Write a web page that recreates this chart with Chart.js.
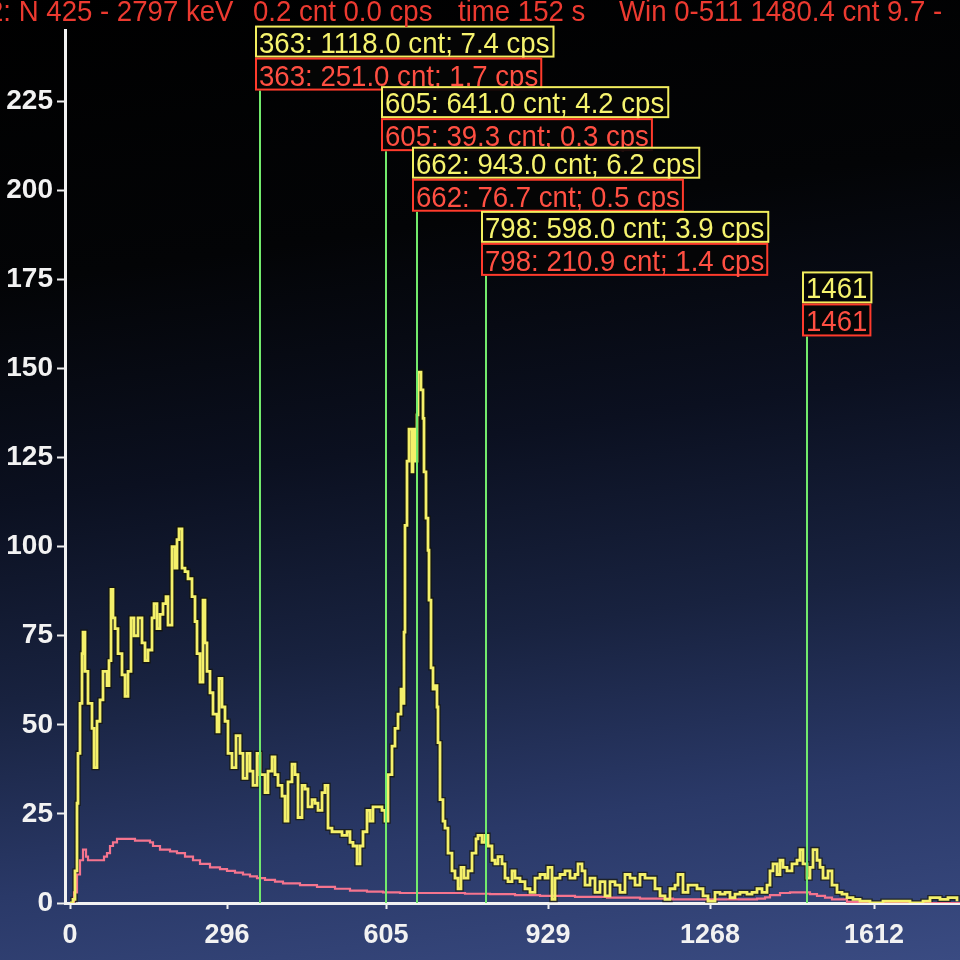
<!DOCTYPE html>
<html>
<head>
<meta charset="utf-8">
<script src="https://cdn.jsdelivr.net/npm/chart.js@4.4.1/dist/chart.umd.min.js"></script>
<style>
    html, body {
        margin: 0;
        padding: 0;
        width: 960px;
        height: 960px;
        overflow: hidden;
        background: linear-gradient(172deg, #000000 0%, #030406 26%, #0b1020 46%, #18223f 64%, #2a3968 82%, #3a4b82 100%);
    }
    #spectrum { display: block; }
</style>
</head>
<body>
<canvas id="spectrum" width="960" height="960"></canvas>
<script>
// spectrum channels (screen channel index) and counts
const yellowCh = [0, 3, 5, 7, 8, 10, 12, 13, 15, 18, 22, 24, 27, 30, 33, 37, 39, 41, 43, 45, 48, 52, 55, 58, 61, 64, 68, 72, 75, 78,
    82, 84, 87, 90, 93, 96, 98, 102, 105, 107, 109, 112, 115, 118, 122, 125, 127, 130, 133, 135, 137, 140, 143, 147, 149, 152, 155, 158, 162, 166,
    170, 173, 177, 180, 183, 187, 190, 195, 198, 202, 205, 208, 212, 215, 218, 222, 225, 228, 232, 235, 238, 242, 245, 248, 252, 255, 258, 262, 267, 272,
    277, 280, 283, 287, 290, 293, 297, 300, 303, 308, 312, 315, 318, 322, 325, 328, 331, 333, 334, 335, 337, 339, 342, 343, 345, 347, 348, 351, 353, 354,
    356, 358, 359, 361, 363, 365, 367, 368, 370, 373, 375, 378, 382, 385, 388, 391, 394, 398, 402, 406, 408, 412, 415, 418, 422, 425, 428, 432, 435, 438,
    442, 445, 450, 455, 460, 465, 470, 475, 478, 482, 485, 490, 495, 500, 505, 508, 512, 515, 520, 525, 530, 535, 540, 545, 550, 555, 560, 565, 570, 575,
    580, 585, 590, 595, 600, 605, 608, 613, 618, 623, 627, 633, 638, 645, 650, 655, 660, 665, 670, 677, 682, 687, 692, 697, 700, 703, 707, 710, 713, 717,
    722, 727, 730, 733, 737, 740, 743, 747, 750, 753, 758, 762, 767, 772, 777, 783, 790, 800, 813, 827, 840, 853, 860, 870, 878, 887];
const yellowCnt = [0, 1, 9, 28, 42, 56, 70, 76, 65, 56, 49, 38, 51, 57, 65, 61, 68, 88, 80, 77, 70, 64, 58, 65, 80, 75, 80, 73, 68, 71,
    80, 84, 77, 81, 84, 86, 78, 100, 94, 102, 105, 94, 93, 91, 86, 79, 70, 62, 85, 73, 65, 59, 53, 48, 63, 55, 51, 42, 38, 47,
    42, 35, 42, 37, 33, 42, 36, 31, 37, 41, 36, 33, 30, 23, 34, 39, 36, 24, 33, 32, 27, 29, 28, 26, 31, 33, 21, 20, 20, 19,
    20, 17, 16, 11, 16, 20, 26, 23, 27, 27, 26, 23, 36, 44, 49, 53, 60, 56, 76, 106, 124, 133, 121, 133, 124, 137, 149, 144, 136, 121,
    108, 99, 85, 66, 60, 61, 55, 45, 29, 23, 21, 14, 9, 7, 4, 10, 7, 9, 14, 18, 19, 17, 19, 16, 12, 11, 13, 11, 7, 6,
    9, 7, 6, 4, 3, 7, 8, 7, 10, 1, 7, 8, 9, 7, 8, 11, 9, 5, 7, 3, 6, 2, 6, 5, 3, 8, 7, 5, 8, 7,
    7, 4, 2, 1, 4, 5, 8, 3, 5, 5, 4, 2, 0.5, 3, 2.5, 3, 1.5, 2.5, 3, 2.5, 3, 4, 3, 5, 9, 11, 8, 12, 10, 9,
    11, 12, 15, 11, 7, 10, 15, 12, 10, 7, 9, 5, 3, 2.5, 1.5, 1, 0.5, 0, 0.5, 0.5, 0, 0.5, 1.5, 1, 1.5, 0.5];

const redCh = [0, 4, 7, 10, 13, 16, 18, 23, 30, 34, 37, 40, 43, 47, 55, 65, 75, 80, 83, 90, 100, 107, 115, 123, 130, 140, 150, 157, 165, 173,
    180, 187, 195, 205, 213, 230, 247, 265, 280, 297, 313, 330, 350, 370, 395, 420, 445, 470, 505, 537, 570, 603, 630, 653, 687, 695, 700, 710, 720, 733,
    740, 747, 755, 762, 777, 790, 890];
const redCnt = [0, 3, 8, 12, 15, 13, 12, 12, 12, 13, 14, 16, 17, 18, 18, 17.5, 17.5, 17, 16, 15, 14.5, 14, 13, 12, 11, 10, 9.5, 9, 8.5, 8,
    7.5, 7, 6.5, 6, 5.5, 5, 4.5, 4, 3.5, 3.2, 3, 2.8, 2.8, 2.8, 2.6, 2.5, 2.2, 2, 1.7, 1.5, 1.2, 1, 1, 1, 1.2, 1.6, 2.2, 2.8, 3, 3,
    2.5, 2, 1.5, 1, 0.3, 0, 0];

// energy markers
const markerCh = [190, 316, 347, 416, 737];
const markerTop = [228, 211, 194, 176, 159];
const markerYellow = ['363: 1118.0 cnt; 7.4 cps', '605: 641.0 cnt; 4.2 cps', '662: 943.0 cnt; 6.2 cps', '798: 598.0 cnt; 3.9 cps', '1461'];
const markerRed = ['363: 251.0 cnt; 1.7 cps', '605: 39.3 cnt; 0.3 cps', '662: 76.7 cnt; 0.5 cps', '798: 210.9 cnt; 1.4 cps', '1461'];

// axes
const xTickCh = [0, 157, 316, 478, 640, 804];
const xTickLabels = ['0', '296', '605', '929', '1268', '1612'];
const yTicks = [0, 25, 50, 75, 100, 125, 150, 175, 200, 225];

const headerParts = [
    { text: '2: N 425 - 2797 keV', x: -12 },
    { text: '0.2 cnt 0.0 cps', x: 253 },
    { text: 'time 152 s', x: 458 },
    { text: 'Win 0-511 1480.4 cnt 9.7 -', x: 619 }
];

const FONT = '"Liberation Sans", Arial, sans-serif';
const NARROW = 0.92; // screen font is a bit condensed
const toPoints = (xs, ys) => xs.map((c, i) => ({ x: c, y: ys[i] }));

// draw text squeezed horizontally
const narrowText = (ctx, text, x, y) => {
    ctx.save();
    ctx.translate(x, y);
    ctx.scale(NARROW, 1);
    ctx.fillText(text, 0, 0);
    ctx.restore();
};

const markerPlugin = {
    id: 'markers',
    afterDatasetsDraw(chart) {
        const { ctx, scales: { x, y } } = chart;
        ctx.save();
        ctx.font = '30px ' + FONT;
        ctx.textBaseline = 'alphabetic';
        markerCh.forEach((ch, i) => {
            const px = x.getPixelForValue(ch);
            const top = y.getPixelForValue(markerTop[i]);
            const base = y.getPixelForValue(0);

            ctx.strokeStyle = '#72ea6c';
            ctx.lineWidth = 2;
            ctx.beginPath();
            ctx.moveTo(px, top);
            ctx.lineTo(px, base);
            ctx.stroke();

            const left = px - 4;
            const yw = ctx.measureText(markerYellow[i]).width * NARROW + 7;
            const rw = ctx.measureText(markerRed[i]).width * NARROW + 6;

            // yellow box
            ctx.fillStyle = 'rgba(6,6,6,0.9)';
            ctx.fillRect(left, top - 64, yw, 30);
            ctx.strokeStyle = '#f2ee5e';
            ctx.lineWidth = 2;
            ctx.strokeRect(left, top - 64, yw, 30);
            ctx.fillStyle = '#f6f36e';
            narrowText(ctx, markerYellow[i], left + 3, top - 38);

            // red box
            ctx.fillStyle = 'rgba(6,6,6,0.9)';
            ctx.fillRect(left, top - 32, rw, 31);
            ctx.strokeStyle = '#ff3b2c';
            ctx.strokeRect(left, top - 32, rw, 31);
            ctx.fillStyle = '#ff4f42';
            narrowText(ctx, markerRed[i], left + 3, top - 5);
        });
        ctx.restore();
    },
    afterDraw(chart) {
        const { ctx } = chart;
        ctx.save();
        ctx.font = '30px ' + FONT;
        ctx.fillStyle = '#ec3a30';
        ctx.textBaseline = 'alphabetic';
        headerParts.forEach(p => narrowText(ctx, p.text, p.x, 21));
        ctx.restore();
    }
};

new Chart(document.getElementById('spectrum').getContext('2d'), {
    type: 'line',
    data: {
        datasets: [
            {
                label: 'Spectrum',
                data: toPoints(yellowCh, yellowCnt),
                borderColor: '#f4f06a',
                borderWidth: 2.8,
                stepped: true,
                pointRadius: 0,
                order: 1
            },
            {
                label: 'Background',
                data: toPoints(redCh, redCnt),
                borderColor: '#f5748e',
                borderWidth: 2.2,
                stepped: true,
                pointRadius: 0,
                order: 2
            },
            {
                label: 'Spectrum outline',
                data: toPoints(yellowCh, yellowCnt),
                borderColor: 'rgba(20,18,0,0.65)',
                borderWidth: 5.5,
                stepped: true,
                pointRadius: 0,
                order: 3
            }
        ]
    },
    options: {
        responsive: false,
        animation: false,
        layout: { padding: { top: 30, left: 0, right: 0, bottom: 0 } },
        plugins: {
            legend: { display: false },
            tooltip: { enabled: false }
        },
        scales: {
            x: {
                type: 'linear',
                min: -5,
                max: 890,
                afterBuildTicks: (scale) => { scale.ticks = xTickCh.map(v => ({ value: v })); },
                afterFit: (scale) => { scale.height = 57; },
                ticks: {
                    color: '#f2f2f2',
                    font: { family: FONT, size: 27, weight: 'bold' },
                    padding: 10,
                    maxRotation: 0,
                    autoSkip: false,
                    callback: (v) => xTickLabels[xTickCh.indexOf(v)]
                },
                grid: { drawOnChartArea: false, color: '#eeeeee', tickLength: 6, tickWidth: 2 },
                border: { color: '#f2f2f2', width: 3 }
            },
            y: {
                min: 0,
                max: 245,
                afterBuildTicks: (scale) => { scale.ticks = yTicks.map(v => ({ value: v })); },
                afterFit: (scale) => { scale.width = 65; },
                ticks: {
                    color: '#f2f2f2',
                    font: { family: FONT, size: 28, weight: 'bold' },
                    padding: 4
                },
                grid: { drawOnChartArea: false, color: '#eeeeee', tickLength: 8, tickWidth: 2 },
                border: { color: '#f2f2f2', width: 3 }
            }
        }
    },
    plugins: [markerPlugin]
});
</script>
</body>
</html>
